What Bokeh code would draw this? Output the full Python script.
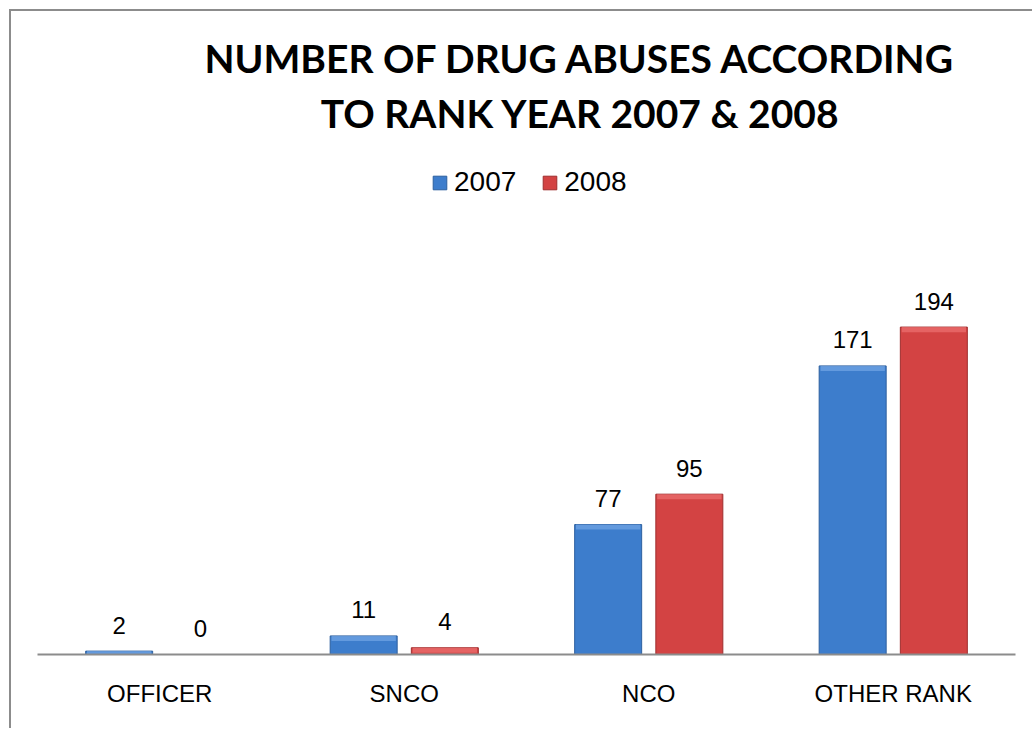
from bokeh.plotting import figure
from bokeh.models import ColumnDataSource, FactorRange, Range1d, Label, Legend, LegendItem
from bokeh.transform import dodge
from bokeh.core.properties import value
from bokeh.embed import file_html
from bokeh.resources import INLINE

# Drug abuse cases by rank
categories = ["OFFICER", "SNCO", "NCO", "OTHER RANK"]
cases_2007 = [2, 11, 77, 171]
cases_2008 = [0, 4, 95, 194]
series_names = ["2007", "2008"]
title_lines = ["NUMBER OF DRUG ABUSES ACCORDING", "TO RANK YEAR 2007 & 2008"]

BLUE, BLUE_EDGE, BLUE_TOP = "#3d7dcc", "#2c5f9f", "#74a7e6"
RED, RED_EDGE, RED_TOP = "#d34343", "#9e2d2d", "#ec7070"
BEVEL = 3  # depth of the lighter top strip, in case units


def source(vals):
    return ColumnDataSource(dict(
        cat=categories,
        v=vals,
        bevel=[max(v - BEVEL, 0) for v in vals],
        label=[str(v) for v in vals],
    ))


src07 = source(cases_2007)
src08 = source(cases_2008)

p = figure(
    x_range=FactorRange(*categories, range_padding=0),
    y_range=Range1d(0, 381),
    width=1023, height=719,
    output_backend="svg", toolbar_location=None,
    min_border_left=26, min_border_right=19,
    min_border_top=0, min_border_bottom=76,
    background_fill_color="white", border_fill_color="white",
)
p.styles = {
    "margin-left": "9px", "margin-top": "9px",
    "border-left": "2px solid #8c8c8c", "border-top": "2px solid #8c8c8c",
}
p.outline_line_color = None
p.grid.visible = False
p.yaxis.visible = False

ax = p.xaxis[0]
ax.axis_line_color = "#8c8c8c"
ax.axis_line_width = 2
ax.major_tick_line_color = None
ax.minor_tick_line_color = None
ax.major_label_text_font = "Liberation Sans"
ax.major_label_text_font_size = "24px"
ax.major_label_text_color = "black"
ax.major_label_standoff = 19

OFF, W = 0.166, 0.274
renderers = []
for src, off, fill, edge, top in [
    (src07, -OFF, BLUE, BLUE_EDGE, BLUE_TOP),
    (src08, OFF, RED, RED_EDGE, RED_TOP),
]:
    xd = dodge("cat", off, range=p.x_range)
    r = p.vbar(x=xd, top="v", width=W, source=src,
               fill_color=fill, line_color=edge, line_width=1)
    p.vbar(x=xd, top="v", bottom="bevel", width=W * 0.96, source=src,
           fill_color=top, line_color=None, fill_alpha=0.7)
    p.text(x=xd, y="v", text="label", source=src,
           text_align="center", text_baseline="alphabetic", y_offset=-26,
           text_font=value("Liberation Sans"), text_font_size="24px",
           text_color="black")
    renderers.append(r)

legend = Legend(
    items=[LegendItem(label=n, renderers=[r]) for n, r in zip(series_names, renderers)],
    orientation="horizontal", location=(394, 456),
    glyph_width=17, glyph_height=17, label_standoff=6, spacing=25,
    padding=0, margin=0, border_line_color=None, background_fill_alpha=0,
    label_text_font="Liberation Sans", label_text_font_size="28px",
    label_text_color="black",
)
p.add_layout(legend, "center")

for text, y in zip(title_lines, [597, 542]):
    p.add_layout(Label(
        x=543, y=y, x_units="screen", y_units="screen", text=text,
        text_align="center", text_baseline="alphabetic",
        text_font="Lato", text_font_style="bold", text_font_size="39px",
        text_color="black",
    ))

open("out.html", "w").write(file_html(p, INLINE))
